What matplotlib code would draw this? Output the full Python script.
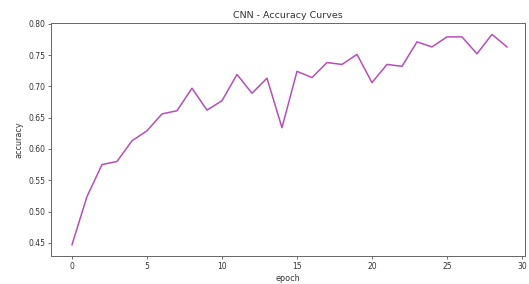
import matplotlib
matplotlib.use("Agg")
import matplotlib.pyplot as plt

epochs = list(range(30))
accuracy = [0.447, 0.524, 0.575, 0.580, 0.613, 0.629, 0.656, 0.661, 0.697, 0.662,
            0.677, 0.719, 0.689, 0.713, 0.634, 0.724, 0.714, 0.738, 0.735, 0.751,
            0.706, 0.735, 0.732, 0.771, 0.763, 0.779, 0.779, 0.752, 0.783, 0.763]

plt.rcParams.update({
    "font.size": 5.5,
    "axes.linewidth": 0.7,
    "xtick.major.width": 0.6,
    "ytick.major.width": 0.6,
    "xtick.major.size": 2.2,
    "ytick.major.size": 2.2,
    "xtick.major.pad": 2,
    "ytick.major.pad": 2,
})

fig = plt.figure(figsize=(5.29, 2.84), dpi=100)
ax = fig.add_axes([0.0964, 0.0986, 0.896, 0.820])

ax.plot(epochs, accuracy, color="#b94cc0", linewidth=1.1)

ax.set_xlim(-1.4, 30.2)
ax.set_ylim(0.429, 0.801)
ax.set_xticks([0, 5, 10, 15, 20, 25, 30])
ax.set_yticks([0.45, 0.50, 0.55, 0.60, 0.65, 0.70, 0.75, 0.80])
ax.set_yticklabels([f"{v:.2f}" for v in [0.45, 0.50, 0.55, 0.60, 0.65, 0.70, 0.75, 0.80]])

for s in ax.spines.values():
    s.set_color("#666666")
ax.tick_params(colors="#555555", labelcolor="#333333")

ax.set_title("CNN - Accuracy Curves", fontsize=6.8, color="#333333", pad=4)
ax.set_xlabel("epoch", fontsize=5.8, color="#333333", labelpad=2)
ax.set_ylabel("accuracy", fontsize=5.8, color="#333333", labelpad=3)

fig.savefig("out.png", dpi=100)
